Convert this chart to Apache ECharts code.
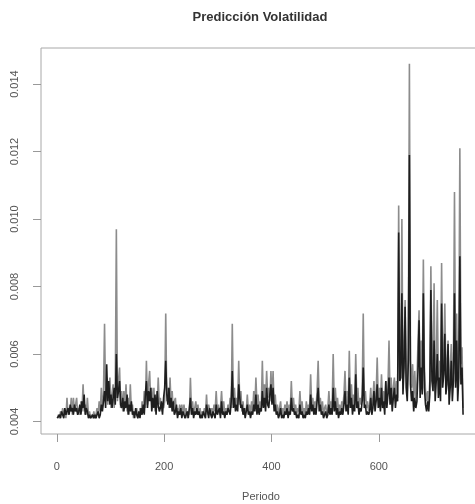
<!DOCTYPE html>
<html>
<head>
<meta charset="utf-8">
<script src="https://cdn.jsdelivr.net/npm/echarts@6/dist/echarts.min.js"></script>
<style>
  html, body { margin: 0; padding: 0; background: #fff; }
  #chart { width: 475px; height: 504px; }
</style>
</head>
<body>
<div id="chart"></div>
<script>
// one sample every 2 periods, starting at period 1
const PASO = 2;

// serie gris (trazo claro)
const volGris = [
  0.0041,0.0042,0.0041,0.0043,0.0042,0.0044,0.0042,0.0043,0.0041,0.0047,
  0.0042,0.0044,0.0043,0.0047,0.0042,0.0047,0.0043,0.0045,0.0047,0.0042,
  0.0044,0.0042,0.0046,0.0043,0.0051,0.0043,0.0045,0.0042,0.0047,0.0042,
  0.0043,0.0041,0.0042,0.0041,0.0043,0.0041,0.0042,0.0044,0.0042,0.0046,
  0.0043,0.0050,0.0044,0.0048,0.0069,0.0046,0.0053,0.0045,0.0049,0.0053,
  0.0044,0.0048,0.0051,0.0044,0.0050,0.0097,0.0046,0.0052,0.0056,0.0044,
  0.0049,0.0043,0.0049,0.0044,0.0051,0.0043,0.0047,0.0042,0.0051,0.0043,
  0.0045,0.0041,0.0043,0.0042,0.0044,0.0041,0.0042,0.0044,0.0042,0.0046,
  0.0043,0.0049,0.0044,0.0058,0.0045,0.0051,0.0055,0.0046,0.0050,0.0044,
  0.0050,0.0043,0.0047,0.0044,0.0053,0.0045,0.0047,0.0043,0.0045,0.0044,
  0.0046,0.0072,0.0046,0.0050,0.0044,0.0053,0.0045,0.0049,0.0043,0.0046,
  0.0047,0.0042,0.0044,0.0042,0.0045,0.0043,0.0045,0.0042,0.0045,0.0042,
  0.0044,0.0041,0.0043,0.0042,0.0053,0.0043,0.0046,0.0042,0.0044,0.0046,
  0.0043,0.0045,0.0042,0.0044,0.0041,0.0043,0.0042,0.0044,0.0042,0.0048,
  0.0042,0.0045,0.0043,0.0042,0.0044,0.0042,0.0045,0.0043,0.0049,0.0043,
  0.0045,0.0042,0.0044,0.0049,0.0043,0.0046,0.0042,0.0044,0.0042,0.0045,
  0.0043,0.0047,0.0044,0.0069,0.0045,0.0050,0.0044,0.0047,0.0045,0.0058,
  0.0045,0.0049,0.0043,0.0046,0.0042,0.0044,0.0043,0.0048,0.0043,0.0045,
  0.0042,0.0046,0.0043,0.0049,0.0044,0.0053,0.0045,0.0048,0.0043,0.0046,
  0.0044,0.0058,0.0045,0.0051,0.0046,0.0055,0.0047,0.0050,0.0046,0.0055,
  0.0046,0.0055,0.0044,0.0048,0.0043,0.0045,0.0042,0.0044,0.0046,0.0042,
  0.0044,0.0042,0.0045,0.0043,0.0046,0.0042,0.0045,0.0043,0.0052,0.0044,
  0.0047,0.0043,0.0045,0.0042,0.0044,0.0043,0.0049,0.0043,0.0046,0.0042,
  0.0044,0.0042,0.0046,0.0043,0.0045,0.0044,0.0054,0.0044,0.0047,0.0043,
  0.0046,0.0044,0.0049,0.0058,0.0045,0.0047,0.0043,0.0046,0.0042,0.0044,
  0.0045,0.0042,0.0044,0.0049,0.0043,0.0046,0.0044,0.0060,0.0045,0.0050,
  0.0044,0.0047,0.0043,0.0045,0.0042,0.0046,0.0044,0.0048,0.0055,0.0045,
  0.0049,0.0044,0.0061,0.0046,0.0051,0.0044,0.0048,0.0045,0.0060,0.0046,
  0.0050,0.0044,0.0047,0.0045,0.0048,0.0072,0.0046,0.0049,0.0044,0.0046,
  0.0043,0.0045,0.0050,0.0044,0.0047,0.0052,0.0045,0.0048,0.0059,0.0046,
  0.0050,0.0045,0.0054,0.0046,0.0049,0.0044,0.0052,0.0046,0.0050,0.0064,
  0.0047,0.0053,0.0045,0.0050,0.0053,0.0046,0.0052,0.0047,0.0104,0.0056,
  0.0057,0.0100,0.0052,0.0060,0.0076,0.0054,0.0049,0.0062,0.0146,0.0058,
  0.0050,0.0057,0.0046,0.0055,0.0047,0.0051,0.0064,0.0073,0.0052,0.0064,
  0.0052,0.0088,0.0056,0.0049,0.0046,0.0049,0.0045,0.0052,0.0086,0.0058,
  0.0054,0.0081,0.0050,0.0056,0.0076,0.0052,0.0058,0.0050,0.0087,0.0055,
  0.0060,0.0075,0.0053,0.0057,0.0064,0.0049,0.0055,0.0063,0.0050,0.0058,
  0.0108,0.0054,0.0072,0.0050,0.0060,0.0121,0.0057,0.0062,0.0044
];

// serie negra (trazo oscuro)
const volNegra = [
  0.0041,0.0041,0.0042,0.0041,0.0043,0.0042,0.0041,0.0044,0.0042,0.0043,
  0.0044,0.0042,0.0045,0.0043,0.0044,0.0042,0.0045,0.0043,0.0044,0.0042,
  0.0043,0.0045,0.0042,0.0046,0.0044,0.0048,0.0042,0.0044,0.0043,0.0041,
  0.0042,0.0041,0.0041,0.0042,0.0041,0.0042,0.0041,0.0042,0.0043,0.0041,
  0.0042,0.0045,0.0043,0.0046,0.0049,0.0044,0.0057,0.0046,0.0052,0.0045,
  0.0048,0.0044,0.0047,0.0050,0.0045,0.0060,0.0047,0.0049,0.0052,0.0045,
  0.0044,0.0047,0.0043,0.0046,0.0044,0.0048,0.0042,0.0045,0.0043,0.0046,
  0.0042,0.0043,0.0041,0.0044,0.0042,0.0041,0.0043,0.0041,0.0044,0.0042,
  0.0045,0.0042,0.0048,0.0052,0.0044,0.0049,0.0046,0.0050,0.0043,0.0047,
  0.0044,0.0048,0.0042,0.0049,0.0045,0.0043,0.0044,0.0046,0.0042,0.0047,
  0.0050,0.0058,0.0048,0.0045,0.0050,0.0044,0.0047,0.0043,0.0046,0.0042,
  0.0043,0.0045,0.0041,0.0043,0.0042,0.0044,0.0041,0.0043,0.0042,0.0041,
  0.0042,0.0043,0.0041,0.0044,0.0047,0.0042,0.0044,0.0041,0.0043,0.0042,
  0.0044,0.0042,0.0043,0.0041,0.0042,0.0041,0.0043,0.0042,0.0041,0.0045,
  0.0043,0.0041,0.0044,0.0042,0.0041,0.0043,0.0042,0.0041,0.0045,0.0042,
  0.0042,0.0044,0.0041,0.0046,0.0042,0.0043,0.0041,0.0043,0.0042,0.0044,
  0.0044,0.0042,0.0046,0.0055,0.0044,0.0047,0.0043,0.0045,0.0043,0.0051,
  0.0047,0.0044,0.0045,0.0042,0.0044,0.0041,0.0043,0.0045,0.0042,0.0043,
  0.0041,0.0043,0.0042,0.0045,0.0043,0.0048,0.0042,0.0045,0.0042,0.0044,
  0.0043,0.0049,0.0044,0.0047,0.0043,0.0050,0.0045,0.0044,0.0048,0.0051,
  0.0045,0.0050,0.0043,0.0045,0.0042,0.0043,0.0041,0.0042,0.0044,0.0041,
  0.0042,0.0041,0.0043,0.0042,0.0044,0.0041,0.0043,0.0042,0.0047,0.0043,
  0.0044,0.0042,0.0043,0.0041,0.0042,0.0041,0.0045,0.0042,0.0043,0.0041,
  0.0042,0.0041,0.0043,0.0042,0.0044,0.0042,0.0048,0.0043,0.0045,0.0042,
  0.0044,0.0042,0.0046,0.0050,0.0043,0.0045,0.0042,0.0043,0.0041,0.0042,
  0.0043,0.0041,0.0042,0.0045,0.0042,0.0044,0.0042,0.0050,0.0043,0.0046,
  0.0042,0.0044,0.0041,0.0043,0.0042,0.0044,0.0042,0.0045,0.0049,0.0043,
  0.0045,0.0042,0.0053,0.0044,0.0047,0.0042,0.0045,0.0043,0.0054,0.0044,
  0.0046,0.0042,0.0044,0.0043,0.0046,0.0056,0.0044,0.0045,0.0042,0.0043,
  0.0042,0.0043,0.0047,0.0042,0.0044,0.0049,0.0043,0.0046,0.0051,0.0044,
  0.0047,0.0043,0.0050,0.0044,0.0046,0.0042,0.0052,0.0044,0.0048,0.0053,
  0.0045,0.0050,0.0043,0.0047,0.0050,0.0044,0.0048,0.0046,0.0096,0.0052,
  0.0053,0.0078,0.0048,0.0056,0.0074,0.0050,0.0046,0.0058,0.0119,0.0051,
  0.0046,0.0049,0.0043,0.0047,0.0044,0.0046,0.0055,0.0070,0.0047,0.0056,
  0.0048,0.0078,0.0050,0.0045,0.0043,0.0046,0.0043,0.0048,0.0079,0.0052,
  0.0049,0.0064,0.0046,0.0052,0.0060,0.0047,0.0053,0.0046,0.0075,0.0050,
  0.0054,0.0066,0.0048,0.0051,0.0063,0.0045,0.0050,0.0058,0.0046,0.0052,
  0.0078,0.0050,0.0064,0.0046,0.0053,0.0089,0.0051,0.0056,0.0042
];

// axis ranges (R style, 4% padding) and tick labels
const rangoX = [-29.4, 790.4];
const rangoY = [0.00363, 0.01507];
const ticksX = [0, 200, 400, 600];
const ticksY = [0.004, 0.006, 0.008, 0.010, 0.012, 0.014];

const chart = echarts.init(document.getElementById('chart'), null, { renderer: 'canvas' });

const fuente = 'Liberation Sans, Arial, sans-serif';
const gris = '#a8a8a8';

// plot box (runs past the right edge of the canvas, as in the reference)
const caja = { left: 41, top: 48, width: 440, height: 386 };
const pxX = caja.width / (rangoX[1] - rangoX[0]);
const pxY = caja.height / (rangoY[1] - rangoY[0]);

// helper grids that only carry the tick marks/labels, aligned with the plot box
const tx0 = ticksX[0], tx1 = ticksX[ticksX.length - 1];
const ty0 = ticksY[0], ty1 = ticksY[ticksY.length - 1];
const gridTicksX = {
  left: caja.left + (tx0 - rangoX[0]) * pxX,
  width: (tx1 - tx0) * pxX,
  top: caja.top,
  height: caja.height
};
const gridTicksY = {
  left: caja.left,
  width: caja.width,
  top: caja.top + (rangoY[1] - ty1) * pxY,
  height: (ty1 - ty0) * pxY
};

const tickStyle = { show: true, inside: false, length: 8, lineStyle: { color: '#999', width: 1 } };
const labelStyle = { fontFamily: fuente, fontSize: 11, color: '#555' };

const option = {
  animation: false,
  backgroundColor: '#fff',
  title: {
    text: 'Predicción Volatilidad',
    left: 260,
    top: 11,
    padding: 0,
    textAlign: 'center',
    textStyle: { fontFamily: fuente, fontSize: 13, fontWeight: 'bold', color: '#333' }
  },
  grid: [
    Object.assign({ show: true, borderColor: gris, borderWidth: 1, containLabel: false, outerBoundsMode: 'none' }, caja),
    Object.assign({ containLabel: false, outerBoundsMode: 'none' }, gridTicksX),
    Object.assign({ containLabel: false, outerBoundsMode: 'none' }, gridTicksY)
  ],
  xAxis: [
    {
      gridIndex: 0,
      type: 'value',
      min: rangoX[0],
      max: rangoX[1],
      name: 'Periodo',
      nameLocation: 'middle',
      nameGap: 57,
      nameTextStyle: labelStyle,
      splitLine: { show: false },
      axisLine: { show: false, onZero: false },
      axisTick: { show: false },
      axisLabel: { show: false }
    },
    {
      gridIndex: 1,
      type: 'value',
      min: tx0,
      max: tx1,
      interval: ticksX[1] - ticksX[0],
      splitLine: { show: false },
      axisLine: { show: false, onZero: false },
      axisTick: tickStyle,
      axisLabel: Object.assign({ margin: 27 }, labelStyle)
    },
    { gridIndex: 2, type: 'value', show: false, min: 0, max: 1 }
  ],
  yAxis: [
    {
      gridIndex: 0,
      type: 'value',
      min: rangoY[0],
      max: rangoY[1],
      splitLine: { show: false },
      axisLine: { show: false, onZero: false },
      axisTick: { show: false },
      axisLabel: { show: false }
    },
    { gridIndex: 1, type: 'value', show: false, min: 0, max: 1 },
    {
      gridIndex: 2,
      type: 'value',
      min: ty0,
      max: ty1,
      interval: 0.002,
      splitLine: { show: false },
      axisLine: { show: false, onZero: false },
      axisTick: tickStyle,
      axisLabel: Object.assign({ rotate: 90, margin: 21, formatter: v => v.toFixed(3) }, labelStyle)
    }
  ],
  series: [
    {
      name: 'gris',
      type: 'line',
      xAxisIndex: 0,
      yAxisIndex: 0,
      showSymbol: false,
      symbol: 'none',
      lineStyle: { width: 1.6, color: '#8c8c8c' },
      data: volGris.map((v, i) => [1 + i * PASO, v])
    },
    {
      name: 'negra',
      type: 'line',
      xAxisIndex: 0,
      yAxisIndex: 0,
      showSymbol: false,
      symbol: 'none',
      lineStyle: { width: 1.6, color: '#1e1e1e' },
      data: volNegra.map((v, i) => [1 + i * PASO, v])
    }
  ]
};

chart.setOption(option);
</script>
</body>
</html>
